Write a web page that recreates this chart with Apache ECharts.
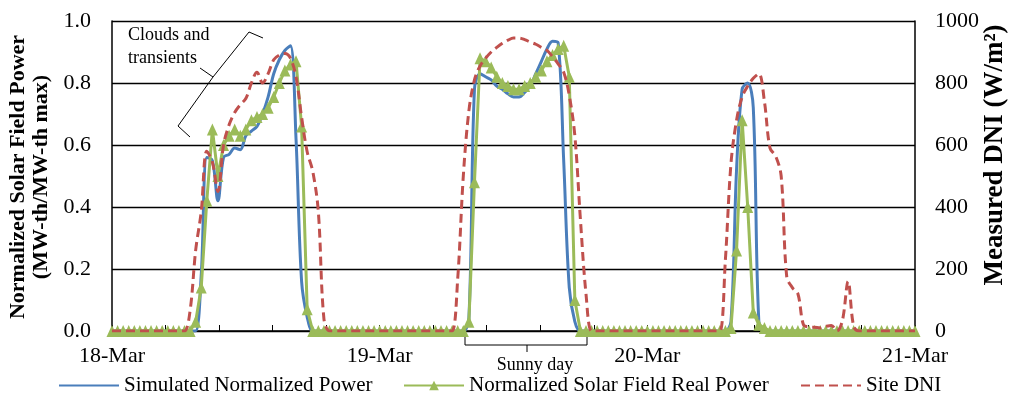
<!DOCTYPE html>
<html>
<head>
<meta charset="utf-8">
<script src="https://cdn.jsdelivr.net/npm/echarts@6/dist/echarts.min.js"></script>
<style>
html,body{margin:0;padding:0;background:#fff;}
#chart{width:1010px;height:399px;}
</style>
</head>
<body>
<div id="chart"></div>
<script>
// ---- DATA ----
// sampling step in hours (half-hourly readings from 18-Mar 00:00 to 21-Mar 00:00)
var STEP_HOURS = 0.5;
var dayLabels = ['18-Mar', '19-Mar', '20-Mar', '21-Mar'];
var seriesNames = ['Simulated Normalized Power', 'Normalized Solar Field Real Power', 'Site DNI'];
var leftTicks = [0, 0.2, 0.4, 0.6, 0.8, 1.0];
var rightTicks = [0, 200, 400, 600, 800, 1000];

var simulated = [
  0,0,0,0,0,0,0,0,0,0,0,0,0,0,0,0,
  0.18,0.56,0.55,0.42,0.56,0.57,0.59,0.585,0.63,0.645,0.66,0.70,0.755,0.83,0.875,0.905,0.92,0.62,0.16,0.045,
  0,0,0,0,0,0,0,0,0,0,0,0,0,0,0,0,0,0,0,0,0,0,0,0,0,0,0,0,
  0.04,0.78,0.83,0.82,0.81,0.79,0.78,0.765,0.755,0.755,0.77,0.79,0.83,0.87,0.91,0.935,0.93,0.55,0.14,0.03,
  0,0,0,0,0,0,0,0,0,0,0,0,0,0,0,0,0,0,0,0,0,0,0,0,0,0,0,
  0.03,0.52,0.78,0.80,0.72,0.03,
  0,0,0,0,0,0,0,0,0,0,0,0,0,0,0,0,0,0,0,0,0,0,0,0,0,0,0,0
];

var realPower = [
  0,0,0,0,0,0,0,0,0,0,0,0,0,0,0,
  0.03,0.14,0.42,0.65,0.50,0.60,0.63,0.65,0.63,0.65,0.68,0.69,0.70,0.72,0.755,0.80,0.84,0.86,0.87,0.66,0.07,
  0,0,0,0,0,0,0,0,0,0,0,0,0,0,0,0,0,0,0,0,0,0,0,0,0,0,0,0,
  0.03,0.48,0.88,0.87,0.85,0.82,0.80,0.79,0.78,0.78,0.79,0.80,0.82,0.84,0.87,0.89,0.91,0.92,0.82,0.10,
  0,0,0,0,0,0,0,0,0,0,0,0,0,0,0,0,0,0,0,0,0,0,0,0,0,0,0,
  0.01,0.26,0.68,0.40,0.06,0.02,0.01,
  0,0,0,0,0,0,0,0,0,0,0,0,0,0,0,0,0,0,0,0,0,0,0,0,0,0,0
];

var siteDNI = [
  0,0,0,0,0,0,0,0,0,0,0,0,0,0,
  65,260,385,580,545,450,600,665,705,730,750,800,835,800,830,875,890,895,880,820,690,578,515,385,40,
  0,0,0,0,0,0,0,0,0,0,0,0,0,0,0,0,0,0,0,0,0,0,0,
  170,500,710,810,855,880,900,915,928,938,945,945,940,932,925,915,905,885,862,835,760,630,360,120,
  0,0,0,0,0,0,0,0,0,0,0,0,0,0,0,0,0,0,0,0,0,0,0,0,
  230,540,680,755,790,815,830,740,590,565,500,175,140,120,20,13,12,10,15,18,0,35,160,15,
  0,0,0,0,0,0,0,0,0,0,0
];

// ---- CHART ----
var FONT = 'Liberation Serif, Times New Roman, serif';
function pairs(arr) { return arr.map(function (v, i) { return [i * STEP_HOURS, v]; }); }

var chart = echarts.init(document.getElementById('chart'), null, {renderer: 'canvas'});

function legendFor(name, left, hideSymbol) {
  var lg = {
    data: [name], left: left, top: 375, orient: 'horizontal', padding: 0,
    itemWidth: 60, itemHeight: 12, itemGap: 0,
    textStyle: {fontFamily: FONT, fontSize: 21, color: '#000'}
  };
  if (hideSymbol) lg.itemStyle = {opacity: 0};
  return lg;
}

var option = {
  backgroundColor: '#fff',
  animation: false,
  grid: {left: 112, right: 95, top: 21, bottom: 68, containLabel: false, outerBoundsMode: 'none'},
  legend: [
    legendFor(seriesNames[0], 58, true),
    legendFor(seriesNames[1], 403, false),
    legendFor(seriesNames[2], 800, true)
  ],
  xAxis: {
    type: 'value', min: 0, max: 72, interval: 4.8,
    axisLine: {show: true, lineStyle: {color: '#000', width: 1.5}},
    axisTick: {show: true, inside: true, length: 6, lineStyle: {color: '#000', width: 1}},
    splitLine: {show: false},
    axisLabel: {
      show: true, margin: 14, color: '#000', fontFamily: FONT, fontSize: 22,
      showMinLabel: true, showMaxLabel: true,
      formatter: function (v) {
        var d = v / 24;
        if (Math.abs(d - Math.round(d)) < 1e-6) return dayLabels[Math.round(d)] || '';
        return '';
      }
    }
  },
  yAxis: [
    {
      type: 'value', min: leftTicks[0], max: leftTicks[leftTicks.length - 1], interval: leftTicks[1] - leftTicks[0],
      position: 'left',
      axisLine: {show: true, lineStyle: {color: '#000', width: 1.5}},
      axisTick: {show: false},
      splitLine: {show: true, lineStyle: {color: '#000', width: 1.3}},
      axisLabel: {margin: 21, color: '#000', fontFamily: FONT, fontSize: 22,
        formatter: function (v) { return v.toFixed(1); }}
    },
    {
      type: 'value', min: rightTicks[0], max: rightTicks[rightTicks.length - 1], interval: rightTicks[1] - rightTicks[0],
      position: 'right',
      axisLine: {show: true, lineStyle: {color: '#000', width: 1.5}},
      axisTick: {show: false},
      splitLine: {show: false},
      axisLabel: {margin: 20, color: '#000', fontFamily: FONT, fontSize: 22,
        formatter: function (v) { return String(Math.round(v)); }}
    }
  ],
  series: [
    {
      name: seriesNames[0], type: 'line', yAxisIndex: 0, data: pairs(simulated),
      symbol: 'none', smooth: 0.35,
      lineStyle: {color: '#4A7EBB', width: 3},
      itemStyle: {color: '#4A7EBB'}, z: 2
    },
    {
      name: seriesNames[1], type: 'line', yAxisIndex: 0, data: pairs(realPower),
      symbol: 'triangle', symbolSize: [11, 12], showSymbol: true, smooth: false,
      lineStyle: {color: '#9BBB59', width: 3},
      itemStyle: {color: '#9BBB59'}, z: 3
    },
    {
      name: seriesNames[2], type: 'line', yAxisIndex: 1, data: pairs(siteDNI),
      symbol: 'none', smooth: 0.35,
      lineStyle: {color: '#C0504D', width: 3, type: [9, 5]},
      itemStyle: {color: '#C0504D'}, z: 4
    }
  ],
  graphic: [
    {
      type: 'text', x: 30, y: 177, rotation: Math.PI / 2,
      style: {text: 'Normalized Solar Field Power\n(MW-th/MW-th max)', fontFamily: FONT, fontSize: 22, fontWeight: 'bold',
        fill: '#000', align: 'center', verticalAlign: 'middle', lineHeight: 23}
    },
    {
      type: 'text', x: 995, y: 155, rotation: Math.PI / 2,
      style: {text: 'Measured DNI (W/m\u00B2)', fontFamily: FONT, fontSize: 27, fontWeight: 'bold',
        fill: '#000', align: 'center', verticalAlign: 'middle'}
    },
    {
      type: 'text', x: 128, y: 47,
      style: {text: 'Clouds and\ntransients', fontFamily: FONT, fontSize: 18, fill: '#000',
        align: 'left', verticalAlign: 'middle', lineHeight: 23}
    },
    {
      type: 'polyline',
      shape: {points: [[263, 38], [249, 32], [213, 77], [178, 126], [190, 137]]},
      style: {stroke: '#000', lineWidth: 1, fill: null}
    },
    {
      type: 'polyline',
      shape: {points: [[213, 77], [200, 68]]},
      style: {stroke: '#000', lineWidth: 1, fill: null}
    },
    {
      type: 'polyline',
      shape: {points: [[465, 333], [465, 345], [587, 345], [587, 333]]},
      style: {stroke: '#000', lineWidth: 1, fill: null}
    },
    {
      type: 'polyline',
      shape: {points: [[527, 345], [527, 352]]},
      style: {stroke: '#000', lineWidth: 1, fill: null}
    },
    {
      type: 'text', x: 535, y: 365,
      style: {text: 'Sunny day', fontFamily: FONT, fontSize: 18, fill: '#000',
        align: 'center', verticalAlign: 'middle'}
    }
  ]
};
chart.setOption(option);
</script>
</body>
</html>
